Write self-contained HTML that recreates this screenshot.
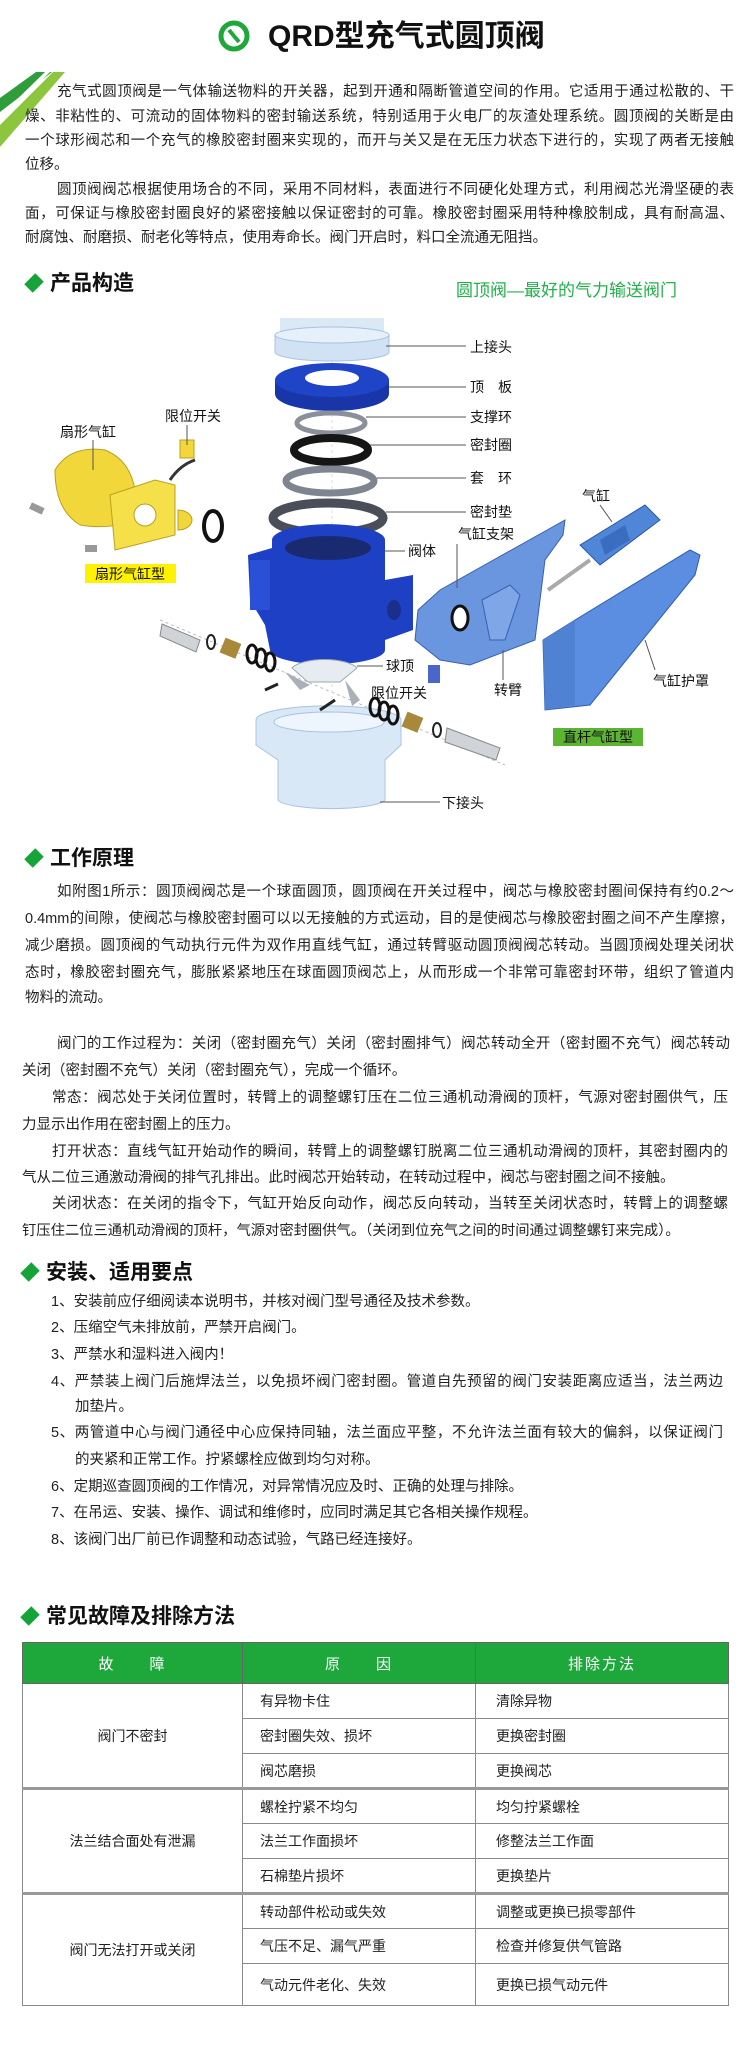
<!DOCTYPE html>
<html><head><meta charset="utf-8">
<style>
*{margin:0;padding:0;box-sizing:border-box}
body{width:747px;height:2055px;background:#fff;position:relative;overflow:hidden;font-family:"Liberation Sans","Noto Sans CJK SC",sans-serif;color:#222}
.l{position:absolute;font-size:14.5px;line-height:20px;white-space:nowrap;height:20px}
.j{text-align:justify;text-align-last:justify}
.h{position:absolute;font-size:21px;font-weight:bold;line-height:26px;color:#111;white-space:nowrap}
.h i{display:inline-block;width:12px;height:12px;background:#16a33a;transform:rotate(45deg) scaleY(1.3);margin:0 10px 3px 4px;vertical-align:middle}
table{position:absolute;left:22px;top:1642px;width:707px;border-collapse:collapse;font-size:14px}
td{border:1.5px solid #8a8a8a;height:35px;padding:0;color:#222}
th{background:#1ea83c;color:#fff;font-weight:normal;height:41px;border:1.5px solid #666;font-size:15px;letter-spacing:2px}
td.c{text-align:center}
td.a{padding-left:17px}
td.b{padding-left:20px}
tr.g td{border-top:3px solid #999}
</style></head><body>

<svg width="747" height="2055" style="position:absolute;left:0;top:0" xmlns="http://www.w3.org/2000/svg">
<!-- corner stripes -->
<polygon points="0,98 36,72 52,72 0,112" fill="#2f9e3a"/>
<polygon points="0,125 53,72 65,72 0,147" fill="#8cc63f"/>
<polygon points="0,116 45,72 50,72 0,121" fill="#fff"/>
<!-- title icon -->
<circle cx="234" cy="36" r="13" fill="none" stroke="#1ea83c" stroke-width="5"/>
<line x1="229" y1="30" x2="239" y2="42" stroke="#1ea83c" stroke-width="4"/>

<!-- diagram: axis dashed -->
<line x1="160" y1="620" x2="505" y2="765" stroke="#bbb" stroke-dasharray="3,3"/>
<line x1="332" y1="318" x2="332" y2="810" stroke="#ddd" stroke-dasharray="3,3"/>
<!-- top flange -->
<rect x="280" y="318" width="104" height="14" fill="#dbe9f6"/>
<path d="M275,335 L275,352 A57,9 0 0 0 389,352 L389,335 Z" fill="#d0e2f4" stroke="#a9c3dd"/>
<ellipse cx="332" cy="335" rx="57" ry="8" fill="#e6f0fa" stroke="#a9c3dd"/>
<!-- top plate -->
<path d="M275,380 L275,394 A57,17 0 0 0 389,394 L389,380 Z" fill="#1836a8"/>
<ellipse cx="332" cy="380" rx="57" ry="17" fill="#1f44c8"/>
<ellipse cx="332" cy="378" rx="27" ry="8" fill="#fff"/>
<!-- support ring -->
<ellipse cx="331" cy="423" rx="34" ry="10" fill="none" stroke="#8a8f9a" stroke-width="5"/>
<!-- seal ring -->
<ellipse cx="331" cy="450" rx="37" ry="12" fill="none" stroke="#151515" stroke-width="8"/>
<!-- sleeve ring -->
<ellipse cx="330" cy="481" rx="44" ry="12" fill="none" stroke="#7e8490" stroke-width="7"/>
<!-- gasket -->
<ellipse cx="328" cy="518" rx="55" ry="15" fill="none" stroke="#4a4e58" stroke-width="9"/>
<!-- valve body -->
<path d="M248,555 L272,548 L272,540 A50,14 0 0 1 385,540 L385,580 L413,575 L413,630 L385,640 L385,650 A56,14 0 0 1 270,650 L265,625 L250,600 Z" fill="#1d40c4"/>
<ellipse cx="328" cy="548" rx="43" ry="12" fill="#1a2a70"/>
<rect x="250" y="560" width="20" height="50" fill="#2a50d8"/>
<ellipse cx="394" cy="610" rx="7" ry="10" fill="#1a2f8a"/>
<!-- dome -->
<path d="M292,668 A34,12 0 0 1 357,668 L340,682 L308,682 Z" fill="#e6ecf2" stroke="#9aa"/>
<path d="M285,672 L300,690 L310,685 Z M345,680 L360,700 L352,706 Z" fill="#aab0b8"/>
<!-- bottom flange -->
<path d="M256,720 A72,14 0 0 1 401,720 L401,745 L385,760 L385,800 A54,10 0 0 1 278,800 L278,760 L256,745 Z" fill="#d8e8f7" stroke="#a9c3dd"/>
<ellipse cx="329" cy="722" rx="55" ry="10" fill="#eef5fc" stroke="#a9c3dd"/>
<!-- left shaft group -->
<path d="M162,624 L200,640 L196,652 L160,636 Z" fill="#d0d3d8" stroke="#888"/>
<ellipse cx="211" cy="642" rx="4" ry="7" fill="none" stroke="#222" stroke-width="2"/>
<rect x="222" y="640" width="17" height="16" fill="#a8893a" transform="rotate(22 230 648)"/>
<ellipse cx="252" cy="654" rx="5" ry="9" fill="none" stroke="#111" stroke-width="3"/>
<ellipse cx="261" cy="658" rx="5" ry="9" fill="none" stroke="#111" stroke-width="3"/>
<ellipse cx="270" cy="662" rx="5" ry="9" fill="none" stroke="#111" stroke-width="3"/>
<line x1="265" y1="690" x2="278" y2="684" stroke="#222" stroke-width="3"/>
<!-- right shaft group -->
<ellipse cx="375" cy="707" rx="5" ry="9" fill="none" stroke="#111" stroke-width="3"/>
<ellipse cx="384" cy="711" rx="5" ry="9" fill="none" stroke="#111" stroke-width="3"/>
<ellipse cx="393" cy="715" rx="5" ry="9" fill="none" stroke="#111" stroke-width="3"/>
<rect x="404" y="714" width="17" height="16" fill="#a8893a" transform="rotate(22 412 722)"/>
<ellipse cx="437" cy="730" rx="4" ry="7" fill="none" stroke="#222" stroke-width="2"/>
<path d="M447,728 L500,748 L496,760 L445,742 Z" fill="#d0d3d8" stroke="#888"/>
<line x1="320" y1="710" x2="335" y2="700" stroke="#222" stroke-width="3"/>
<!-- limit switch lower -->
<rect x="428" y="665" width="12" height="18" fill="#4a66c8"/>
<!-- yellow fan cylinder -->
<path d="M55,470 Q70,445 105,450 Q130,460 135,490 L135,520 Q110,530 80,525 Q55,510 55,470 Z" fill="#f2d73a" stroke="#b9a020"/>
<path d="M110,495 L155,480 L175,485 L175,535 L115,550 Z" fill="#f5e04a" stroke="#b9a020"/>
<circle cx="145" cy="515" r="11" fill="#fff" stroke="#b9a020"/>
<path d="M178,510 A14,10 0 1 1 178,530 Z" fill="#f2d73a" stroke="#b9a020"/>
<ellipse cx="213" cy="526" rx="9" ry="15" fill="none" stroke="#111" stroke-width="4"/>
<rect x="180" y="440" width="14" height="18" fill="#f2d73a" stroke="#b9a020"/>
<path d="M170,480 Q180,465 195,460" stroke="#333" stroke-width="3" fill="none"/>
<rect x="30" y="505" width="14" height="7" fill="#999" transform="rotate(25 37 508)"/>
<rect x="85" y="545" width="12" height="7" fill="#999"/>
<!-- right support (blue) -->
<path d="M418,610 L440,590 L565,520 L563,535 L545,560 L535,640 L470,665 L440,660 L415,640 Z" fill="#6a96e0" stroke="#3a5fb0"/>
<ellipse cx="460" cy="618" rx="8" ry="12" fill="#fff" stroke="#111" stroke-width="3"/>
<path d="M482,600 L510,585 L520,595 L505,640 L490,640 Z" fill="#7fa6e6" stroke="#3a5fb0"/>
<!-- cylinder -->
<path d="M580,545 L645,505 L660,520 L600,565 Z" fill="#4f86d8" stroke="#2a58a8"/>
<path d="M600,540 L625,525 L630,540 L605,555 Z" fill="#3a6dc0"/>
<line x1="548" y1="590" x2="590" y2="560" stroke="#aaa" stroke-width="4"/>
<!-- cylinder cover -->
<path d="M543,640 L575,620 L690,550 L700,555 L695,575 L590,705 L545,710 Z" fill="#5b8ee0" stroke="#2f5fb0"/>
<path d="M543,640 L575,620 L575,705 L545,710 Z" fill="#4f82d2"/>
<!-- leader lines -->
<g stroke="#555" stroke-width="1">
<line x1="386" y1="346" x2="466" y2="346"/>
<line x1="389" y1="387" x2="466" y2="387"/>
<line x1="366" y1="417" x2="466" y2="417"/>
<line x1="370" y1="445" x2="466" y2="445"/>
<line x1="377" y1="478" x2="466" y2="478"/>
<line x1="386" y1="512" x2="466" y2="512"/>
<line x1="385" y1="551" x2="405" y2="551"/>
<line x1="357" y1="666" x2="383" y2="666"/>
<line x1="380" y1="802" x2="440" y2="802"/>
<line x1="457" y1="544" x2="457" y2="588"/>
<line x1="600" y1="505" x2="612" y2="522"/>
<line x1="655" y1="670" x2="645" y2="640"/>
<line x1="503" y1="680" x2="503" y2="650"/>
<line x1="93" y1="440" x2="93" y2="470"/>
<line x1="187" y1="425" x2="187" y2="445"/>
</g>
<g font-family="Liberation Sans,Noto Sans CJK SC,sans-serif" font-size="14" fill="#111">
<text x="470" y="352">上接头</text>
<text x="470" y="392">顶　板</text>
<text x="470" y="422">支撑环</text>
<text x="470" y="450">密封圈</text>
<text x="470" y="483">套　环</text>
<text x="470" y="517">密封垫</text>
<text x="582" y="501">气缸</text>
<text x="458" y="539">气缸支架</text>
<text x="408" y="556">阀体</text>
<text x="165" y="421">限位开关</text>
<text x="60" y="437">扇形气缸</text>
<text x="386" y="671">球顶</text>
<text x="371" y="698">限位开关</text>
<text x="494" y="695">转臂</text>
<text x="653" y="686">气缸护罩</text>
<text x="442" y="808">下接头</text>
</g>
<rect x="85" y="564" width="91" height="19" fill="#fff200"/>
<text x="95" y="579" font-family="Liberation Sans,Noto Sans CJK SC,sans-serif" font-size="14" fill="#111">扇形气缸型</text>
<rect x="553" y="728" width="90" height="18" fill="#5cb531"/>
<text x="563" y="742" font-family="Liberation Sans,Noto Sans CJK SC,sans-serif" font-size="14" fill="#111">直杆气缸型</text>
</svg>

<div style="position:absolute;left:268px;top:18px;font-size:30px;font-weight:bold;line-height:38px;color:#111;white-space:nowrap">QRD型充气式圆顶阀</div>

<div class="l j" style="left:57px;width:677px;top:82px">充气式圆顶阀是一气体输送物料的开关器，起到开通和隔断管道空间的作用。它适用于通过松散的、干</div>
<div class="l j" style="left:25px;width:709px;top:107px">燥、非粘性的、可流动的固体物料的密封输送系统，特别适用于火电厂的灰渣处理系统。圆顶阀的关断是由</div>
<div class="l j" style="left:25px;width:709px;top:131px">一个球形阀芯和一个充气的橡胶密封圈来实现的，而开与关又是在无压力状态下进行的，实现了两者无接触</div>
<div class="l" style="left:25px;top:155px">位移。</div>
<div class="l j" style="left:57px;width:677px;top:180px">圆顶阀阀芯根据使用场合的不同，采用不同材料，表面进行不同硬化处理方式，利用阀芯光滑坚硬的表</div>
<div class="l j" style="left:25px;width:709px;top:204px">面，可保证与橡胶密封圈良好的紧密接触以保证密封的可靠。橡胶密封圈采用特种橡胶制成，具有耐高温、</div>
<div class="l" style="left:25px;top:228px">耐腐蚀、耐磨损、耐老化等特点，使用寿命长。阀门开启时，料口全流通无阻挡。</div>

<div class="h" style="left:24px;top:271px"><i></i>产品构造</div>
<div style="position:absolute;left:456px;top:276px;font-size:17px;color:#22b04a;white-space:nowrap">圆顶阀—最好的气力输送阀门</div>

<div class="h" style="left:24px;top:846px"><i></i>工作原理</div>
<div class="l j" style="left:57px;width:677px;top:882px">如附图1所示：圆顶阀阀芯是一个球面圆顶，圆顶阀在开关过程中，阀芯与橡胶密封圈间保持有约0.2～</div>
<div class="l j" style="left:25px;width:709px;top:909px">0.4mm的间隙，使阀芯与橡胶密封圈可以以无接触的方式运动，目的是使阀芯与橡胶密封圈之间不产生摩擦，</div>
<div class="l j" style="left:25px;width:709px;top:936px">减少磨损。圆顶阀的气动执行元件为双作用直线气缸，通过转臂驱动圆顶阀阀芯转动。当圆顶阀处理关闭状</div>
<div class="l j" style="left:25px;width:709px;top:963px">态时，橡胶密封圈充气，膨胀紧紧地压在球面圆顶阀芯上，从而形成一个非常可靠密封环带，组织了管道内</div>
<div class="l" style="left:25px;top:988px">物料的流动。</div>

<div class="l j" style="left:57px;width:673px;top:1034px">阀门的工作过程为：关闭（密封圈充气）关闭（密封圈排气）阀芯转动全开（密封圈不充气）阀芯转动</div>
<div class="l" style="left:22px;top:1061px">关闭（密封圈不充气）关闭（密封圈充气），完成一个循环。</div>
<div class="l j" style="left:52px;width:676px;top:1088px">常态：阀芯处于关闭位置时，转臂上的调整螺钉压在二位三通机动滑阀的顶杆，气源对密封圈供气，压</div>
<div class="l" style="left:22px;top:1115px">力显示出作用在密封圈上的压力。</div>
<div class="l j" style="left:52px;width:676px;top:1142px">打开状态：直线气缸开始动作的瞬间，转臂上的调整螺钉脱离二位三通机动滑阀的顶杆，其密封圈内的</div>
<div class="l" style="left:22px;top:1168px">气从二位三通激动滑阀的排气孔排出。此时阀芯开始转动，在转动过程中，阀芯与密封圈之间不接触。</div>
<div class="l j" style="left:52px;width:676px;top:1194px">关闭状态：在关闭的指令下，气缸开始反向动作，阀芯反向转动，当转至关闭状态时，转臂上的调整螺</div>
<div class="l" style="left:22px;top:1221px;font-size:14.3px">钉压住二位三通机动滑阀的顶杆，气源对密封圈供气。（关闭到位充气之间的时间通过调整螺钉来完成）。</div>

<div class="h" style="left:20px;top:1260px"><i></i>安装、适用要点</div>
<div class="l" style="left:51px;top:1292px">1、安装前应仔细阅读本说明书，并核对阀门型号通径及技术参数。</div>
<div class="l" style="left:51px;top:1318px">2、压缩空气未排放前，严禁开启阀门。</div>
<div class="l" style="left:51px;top:1345px">3、严禁水和湿料进入阀内！</div>
<div class="l j" style="left:51px;width:672px;top:1372px">4、严禁装上阀门后施焊法兰，以免损坏阀门密封圈。管道自先预留的阀门安装距离应适当，法兰两边</div>
<div class="l" style="left:75px;top:1397px">加垫片。</div>
<div class="l j" style="left:51px;width:672px;top:1423px">5、两管道中心与阀门通径中心应保持同轴，法兰面应平整，不允许法兰面有较大的偏斜，以保证阀门</div>
<div class="l" style="left:75px;top:1450px">的夹紧和正常工作。拧紧螺栓应做到均匀对称。</div>
<div class="l" style="left:51px;top:1477px">6、定期巡查圆顶阀的工作情况，对异常情况应及时、正确的处理与排除。</div>
<div class="l" style="left:51px;top:1503px">7、在吊运、安装、操作、调试和维修时，应同时满足其它各相关操作规程。</div>
<div class="l" style="left:51px;top:1530px">8、该阀门出厂前已作调整和动态试验，气路已经连接好。</div>

<div class="h" style="left:20px;top:1604px"><i></i>常见故障及排除方法</div>

<table>
<tr><th style="width:220px">故　　障</th><th style="width:233px">原　　因</th><th>排除方法</th></tr>
<tr><td class="c" rowspan="3">阀门不密封</td><td class="a">有异物卡住</td><td class="b">清除异物</td></tr>
<tr><td class="a">密封圈失效、损坏</td><td class="b">更换密封圈</td></tr>
<tr><td class="a">阀芯磨损</td><td class="b">更换阀芯</td></tr>
<tr class="g"><td class="c" rowspan="3">法兰结合面处有泄漏</td><td class="a">螺栓拧紧不均匀</td><td class="b">均匀拧紧螺栓</td></tr>
<tr><td class="a">法兰工作面损坏</td><td class="b">修整法兰工作面</td></tr>
<tr><td class="a">石棉垫片损坏</td><td class="b">更换垫片</td></tr>
<tr class="g"><td class="c" rowspan="3">阀门无法打开或关闭</td><td class="a">转动部件松动或失效</td><td class="b">调整或更换已损零部件</td></tr>
<tr><td class="a">气压不足、漏气严重</td><td class="b">检查并修复供气管路</td></tr>
<tr><td class="a" style="height:42px">气动元件老化、失效</td><td class="b">更换已损气动元件</td></tr>
</table>
</body></html>
